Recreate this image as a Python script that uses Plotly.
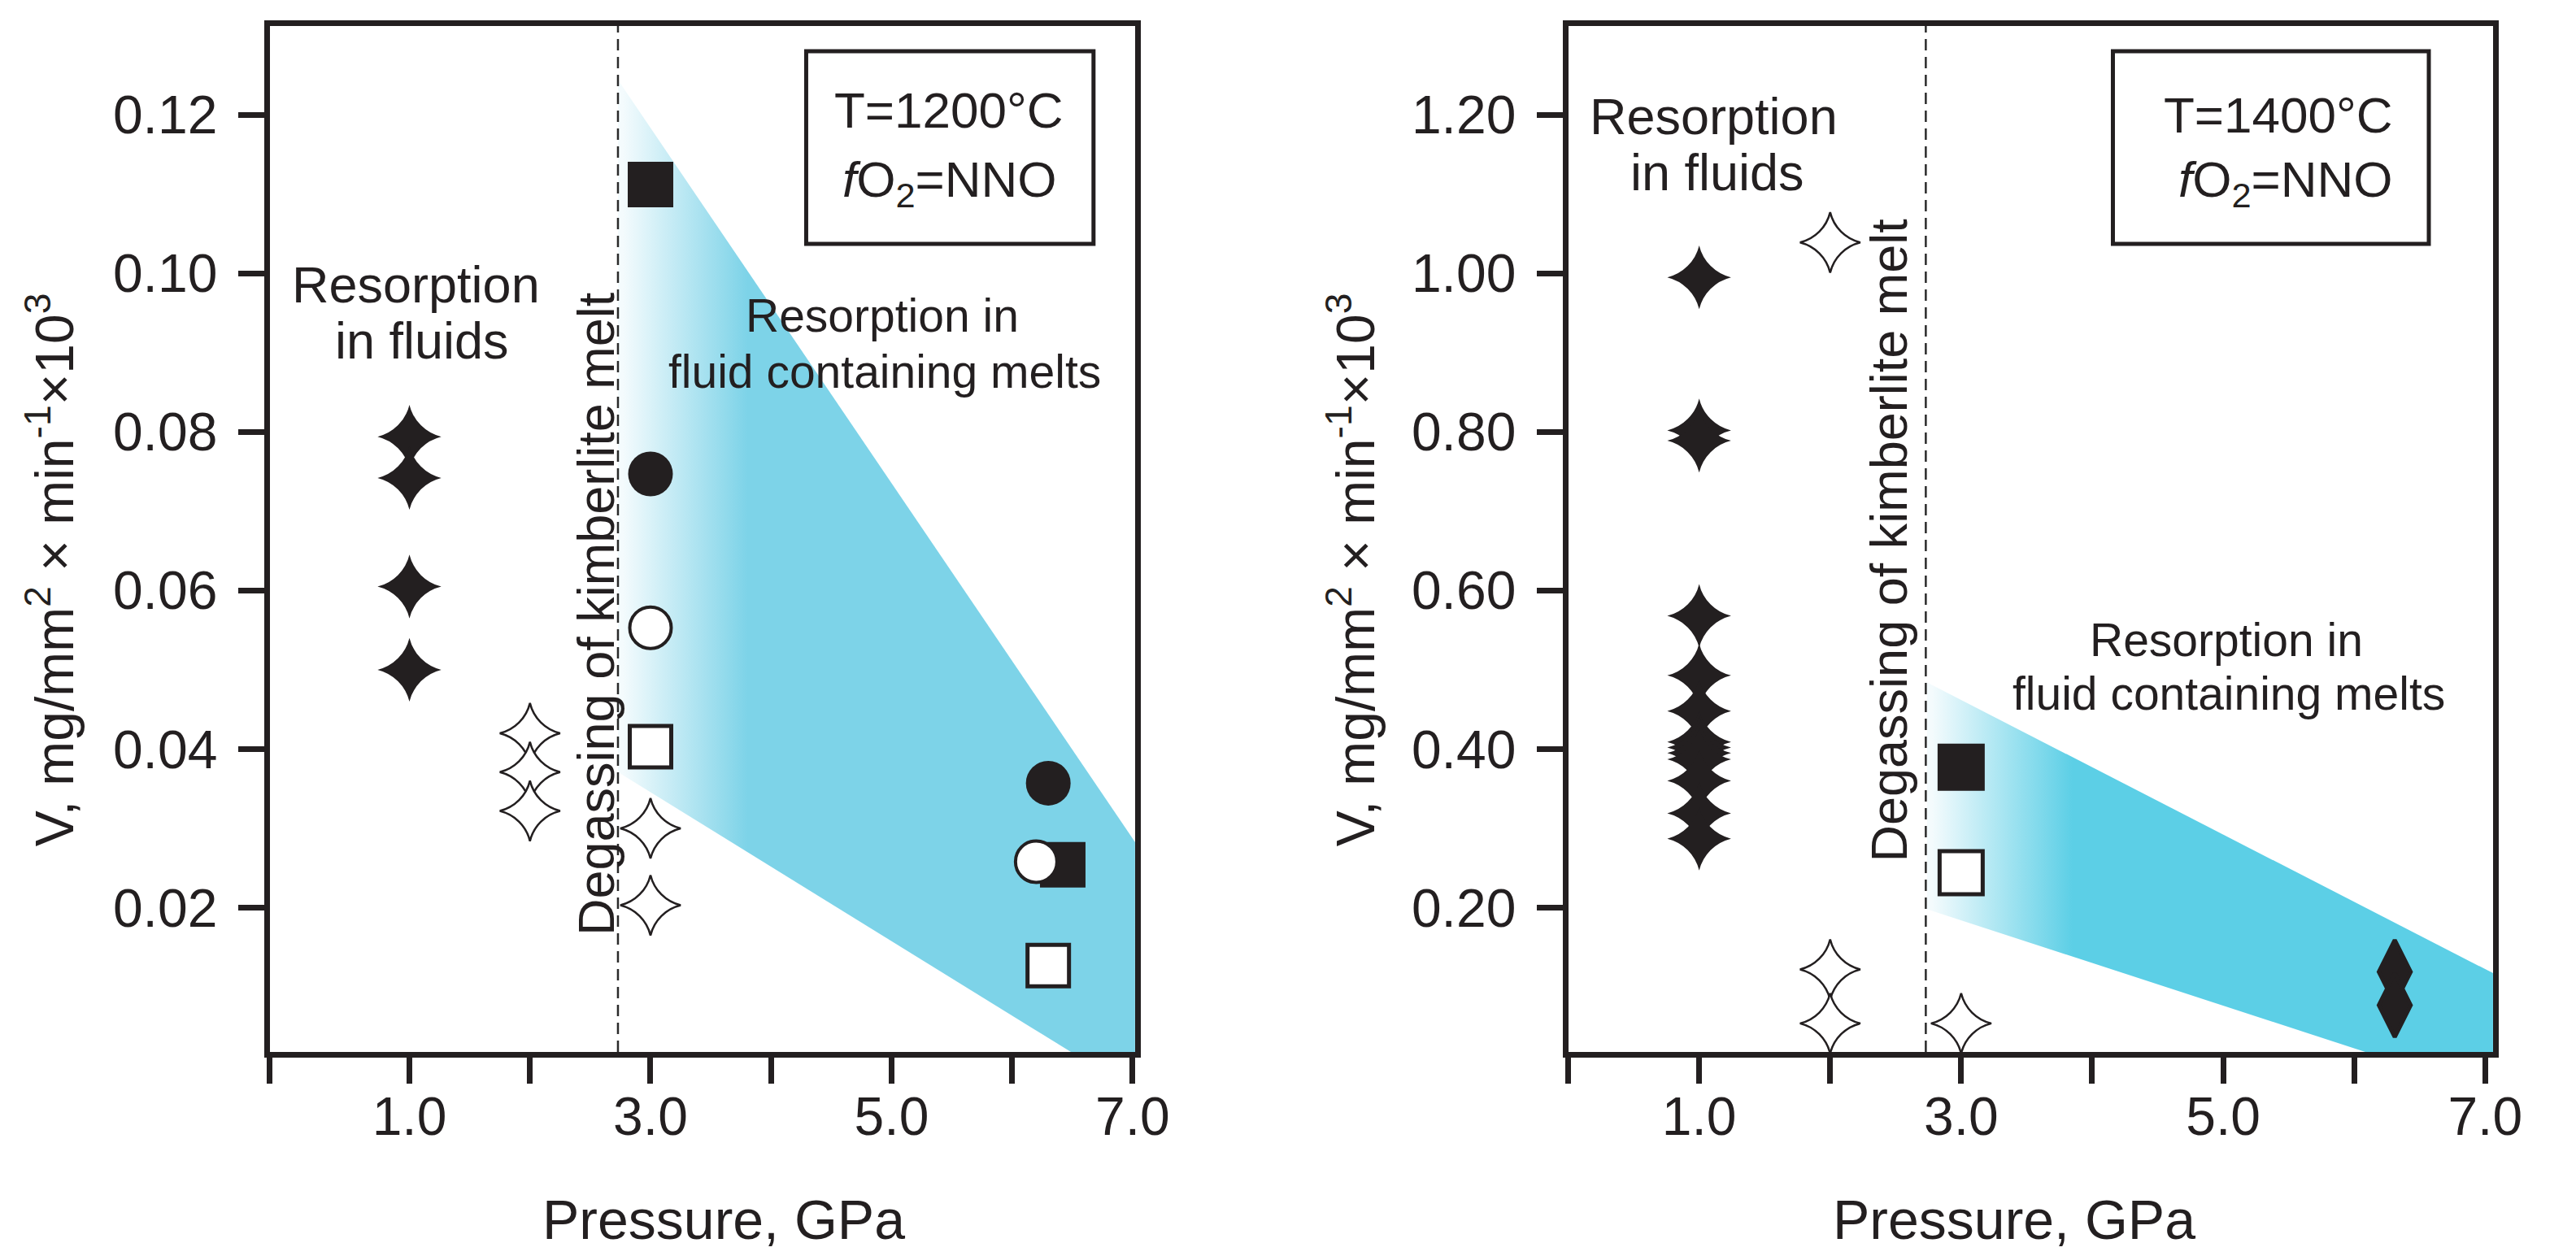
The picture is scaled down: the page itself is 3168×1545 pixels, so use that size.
import plotly.graph_objects as go

DARK = "#231f20"
FONT = "Liberation Sans"

# ---------------- data: T = 1200 °C panel ----------------
p1_fill_star = [1.0, 1.0, 1.0, 1.0]
v1_fill_star = [0.0794, 0.0742, 0.0605, 0.0500]
p1_open_star = [2.0, 2.0, 2.0, 3.0, 3.0]
v1_open_star = [0.0420, 0.0371, 0.0322, 0.0300, 0.0203]
p1_fill_sq = [3.0, 6.42]
v1_fill_sq = [0.1112, 0.0254]
p1_open_sq = [3.0, 6.3]
v1_open_sq = [0.0403, 0.0127]
p1_fill_circ = [3.0, 6.3]
v1_fill_circ = [0.0747, 0.0357]
p1_open_circ = [3.0, 6.2]
v1_open_circ = [0.0553, 0.0258]
band1_p = [2.73, 7.05, 7.05, 6.68, 2.73]
band1_v = [0.1244, 0.0276, 0.0, 0.0, 0.0371]

# ---------------- data: T = 1400 °C panel ----------------
p2_fill_star = [1.0] * 13
v2_fill_star = [0.995, 0.802, 0.789, 0.568, 0.493, 0.448, 0.409, 0.402,
                0.395, 0.387, 0.360, 0.319, 0.287]
p2_open_star = [2.0, 2.0, 2.0, 3.0]
v2_open_star = [1.039, 0.122, 0.054, 0.054]
p2_fill_sq = [3.0]
v2_fill_sq = [0.377]
p2_open_sq = [3.0]
v2_open_sq = [0.244]
p2_diamond = [6.31, 6.31]
v2_diamond = [0.119, 0.077]
band2_p = [2.74, 7.1, 7.1, 6.42, 2.74]
band2_v = [0.484, 0.114, 0.0, 0.0, 0.198]

degassing_p = 2.73

x_ticks = [1, 3, 5, 7]
x_ticktext = ["1.0", "3.0", "5.0", "7.0"]
x_minor = [2, 4, 6]
y1_ticks = [0.02, 0.04, 0.06, 0.08, 0.10, 0.12]
y1_ticktext = ["0.02", "0.04", "0.06", "0.08", "0.10", "0.12"]
y2_ticks = [0.2, 0.4, 0.6, 0.8, 1.0, 1.2]
y2_ticktext = ["0.20", "0.40", "0.60", "0.80", "1.00", "1.20"]

fig = go.Figure()


def band(xs, ys, color, start, stop, xa, ya):
    fig.add_trace(go.Scatter(
        x=xs, y=ys, mode="lines", fill="toself", line=dict(width=0),
        fillgradient=dict(type="horizontal", start=start, stop=stop,
                          colorscale=[[0, "#f4fbfd"], [1, color]]),
        hoverinfo="skip", showlegend=False, xaxis=xa, yaxis=ya))


def pts(xs, ys, symbol, size, fill, lw, xa, ya):
    fig.add_trace(go.Scatter(
        x=xs, y=ys, mode="markers", showlegend=False, xaxis=xa, yaxis=ya,
        marker=dict(symbol=symbol, size=size, color=fill,
                    line=dict(color=DARK, width=lw))))


# left panel
band(band1_p, band1_v, "#7dd3e8", 2.73, 3.75, "x", "y")
pts(p1_fill_star, v1_fill_star, "star-diamond", 56, DARK, 0, "x", "y")
pts(p1_open_star, v1_open_star, "star-diamond", 53, "white", 2.5, "x", "y")
pts(p1_fill_sq, v1_fill_sq, "square", 56, DARK, 0, "x", "y")
pts(p1_open_sq, v1_open_sq, "square", 51, "white", 5, "x", "y")
pts(p1_fill_circ, v1_fill_circ, "circle", 55, DARK, 0, "x", "y")
pts(p1_open_circ, v1_open_circ, "circle", 51, "white", 4, "x", "y")

# right panel
band(band2_p, band2_v, "#5ccfe6", 2.74, 3.8, "x2", "y2")
pts(p2_fill_star, v2_fill_star, "star-diamond", 56, DARK, 0, "x2", "y2")
pts(p2_open_star, v2_open_star, "star-diamond", 53, "white", 2.5, "x2", "y2")
pts(p2_fill_sq, v2_fill_sq, "square", 58, DARK, 0, "x2", "y2")
pts(p2_open_sq, v2_open_sq, "square", 53, "white", 5, "x2", "y2")
pts(p2_diamond, v2_diamond, "diamond-tall", 56, DARK, 5, "x2", "y2")

LW = 7
axis_common = dict(
    ticks="outside", ticklen=32, tickwidth=LW, tickcolor=DARK,
    showline=True, linewidth=LW, linecolor=DARK, mirror=True,
    showgrid=False, zeroline=False,
    tickfont=dict(size=66, color=DARK, family=FONT),
)

x1_range = [-0.16, 7.02]
x2_range = [0.0, 7.06]


def xminor(r):
    return dict(tickvals=[r[0]] + x_minor, ticks="outside", ticklen=32,
                tickwidth=LW, tickcolor=DARK, showgrid=False)


fig.update_layout(
    width=3168, height=1545,
    margin=dict(l=0, r=0, t=0, b=0),
    paper_bgcolor="white", plot_bgcolor="white",
    font=dict(family=FONT, color=DARK),
    xaxis=dict(domain=[0.10354, 0.44413], range=x1_range, anchor="y",
               tickvals=x_ticks, ticktext=x_ticktext, minor=xminor(x1_range),
               ticklabelstandoff=-16, **axis_common),
    yaxis=dict(domain=[0.16764, 0.98447], range=[0.0018, 0.1312], anchor="x",
               tickvals=y1_ticks, ticktext=y1_ticktext, ticklabelstandoff=12,
               **axis_common),
    xaxis2=dict(domain=[0.61458, 0.97854], range=x2_range, anchor="y2",
                tickvals=x_ticks, ticktext=x_ticktext, minor=xminor(x2_range),
                ticklabelstandoff=-16, **axis_common),
    yaxis2=dict(domain=[0.16764, 0.98447], range=[0.018, 1.312], anchor="x2",
                tickvals=y2_ticks, ticktext=y2_ticktext, ticklabelstandoff=12,
                **axis_common),
)

# dashed degassing lines
for xr, yr in (("x", "y domain"), ("x2", "y2 domain")):
    fig.add_shape(type="line", xref=xr, yref=yr, x0=degassing_p, x1=degassing_p,
                  y0=0, y1=1, line=dict(color="#2a2a2a", width=2.5, dash="14px,8px"))

# condition boxes
fig.add_shape(type="rect", xref="x domain", yref="y domain",
              x0=0.620, x1=0.952, y0=0.7876, y1=0.9754,
              line=dict(color=DARK, width=5))
fig.add_shape(type="rect", xref="x2 domain", yref="y2 domain",
              x0=0.589, x1=0.9306, y0=0.7876, y1=0.9754,
              line=dict(color=DARK, width=5))


def txt(text, x, y, xref, yref, size=57, angle=0, xanchor="center"):
    fig.add_annotation(text=text, x=x, y=y, xref=xref, yref=yref,
                       showarrow=False, textangle=angle, xanchor=xanchor,
                       yanchor="middle",
                       font=dict(size=size, color=DARK, family=FONT))


# left panel texts
txt("Resorption", 0.169, 0.748, "x domain", "y domain", size=63)
txt("in fluids", 0.176, 0.6933, "x domain", "y domain", size=63)
txt("Degassing of kimberlite melt", 0.3772, 0.4271, "x domain", "y domain",
    size=63, angle=-90)
txt("Resorption in", 0.708, 0.7179, "x domain", "y domain")
txt("fluid containing melts", 0.711, 0.6632, "x domain", "y domain")
txt("T=1200°C", 0.785, 0.9176, "x domain", "y domain", size=62)
txt("<i>f</i>O<sub>2</sub>=NNO", 0.786, 0.847, "x domain", "y domain", size=62)

# right panel texts
txt("Resorption", 0.157, 0.912, "x2 domain", "y2 domain", size=63)
txt("in fluids", 0.161, 0.857, "x2 domain", "y2 domain", size=63)
txt("Degassing of kimberlite melt", 0.347, 0.499, "x2 domain", "y2 domain",
    size=63, angle=-90)
txt("Resorption in", 0.712, 0.4017, "x2 domain", "y2 domain")
txt("fluid containing melts", 0.714, 0.3494, "x2 domain", "y2 domain")
txt("T=1400°C", 0.894, 0.9136, "x2 domain", "y2 domain", size=62, xanchor="right")
txt("<i>f</i>O<sub>2</sub>=NNO", 0.894, 0.847, "x2 domain", "y2 domain", size=62,
    xanchor="right")

# axis titles
ytitle = "V, mg/mm<sup>2</sup> × min<sup>-1</sup>×10<sup>3</sup>"
txt("Pressure, GPa", 0.2822, 0.0343, "paper", "paper", size=68)
txt("Pressure, GPa", 0.790, 0.0343, "paper", "paper", size=68)
txt(ytitle, 0.0174, 0.5515, "paper", "paper", size=66, angle=-90)
txt(ytitle, 0.5294, 0.5515, "paper", "paper", size=66, angle=-90)

fig.write_html("out.html")
